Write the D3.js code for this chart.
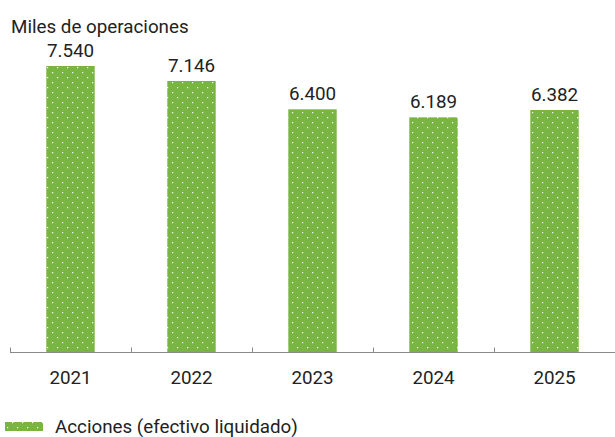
<!DOCTYPE html>
<meta charset="utf-8">
<script src="https://d3js.org/d3.v7.min.js"></script>
<style>
  body { margin: 0; background: #fff; }
  text { font-family: Roboto, "Noto Sans", sans-serif; fill: #222; }
</style>
<svg id="chart" width="615" height="437"></svg>
<script>

  // data
  var years = ["2021", "2022", "2023", "2024", "2025"];
  var values = [7540, 7146, 6400, 6189, 6382];
  var labels = ["7.540", "7.146", "6.400", "6.189", "6.382"];
  var seriesName = "Acciones (efectivo liquidado)";

  var svg = d3.select("svg"),
      width = +svg.attr("width"),
      height = +svg.attr("height");

  var left = 10, right = 615, baseline = 352.5;
  var fontSize = "18.8px";

  // dotted green fill
  var defs = svg.append("defs");
  var pat = defs.append("pattern")
      .attr("id", "dots")
      .attr("patternUnits", "userSpaceOnUse")
      .attr("width", 10)
      .attr("height", 10);
  pat.append("rect").attr("width", 10).attr("height", 10).attr("fill", "#78b543");
  pat.append("rect").attr("x", 2).attr("y", 2).attr("width", 1.2).attr("height", 1.2).attr("fill", "#fff");
  pat.append("rect").attr("x", 7).attr("y", 7).attr("width", 1.2).attr("height", 1.2).attr("fill", "#fff");

  var x = d3.scaleBand()
      .domain(years)
      .range([left, right])
      .paddingInner(0.6)
      .paddingOuter(0.3);

  var y = d3.scaleLinear()
      .domain([0, 7540])
      .range([baseline, 66]);

  // bars
  svg.append("g")
    .selectAll("rect")
    .data(years)
    .enter()
    .append("rect")
      .attr("x", function(d){ return x(d) })
      .attr("width", x.bandwidth())
      .attr("y", function(d, i){ return y(values[i]) })
      .attr("height", function(d, i){ return baseline - y(values[i]) })
      .attr("fill", "url(#dots)");

  // value labels
  svg.append("g")
    .selectAll("text")
    .data(years)
    .enter()
    .append("text")
      .attr("x", function(d){ return x(d) + x.bandwidth() / 2 })
      .attr("y", function(d, i){ return y(values[i]) - 9 })
      .attr("text-anchor", "middle")
      .style("font-size", fontSize)
      .text(function(d, i){ return labels[i] });

  // x axis line with upward ticks at category boundaries
  var step = (right - left) / years.length;
  var ax = svg.append("g");
  ax.append("line")
      .attr("x1", left).attr("x2", right)
      .attr("y1", baseline).attr("y2", baseline)
      .attr("stroke", "#8a8a8a").attr("stroke-width", 1);
  ax.selectAll(".tick")
    .data(d3.range(years.length + 1))
    .enter()
    .append("line")
      .attr("x1", function(i){ return left + i * step + 0.5 })
      .attr("x2", function(i){ return left + i * step + 0.5 })
      .attr("y1", baseline - 5).attr("y2", baseline)
      .attr("stroke", "#8a8a8a").attr("stroke-width", 1);

  // year labels
  ax.selectAll(".year")
    .data(years)
    .enter()
    .append("text")
      .attr("x", function(d){ return x(d) + x.bandwidth() / 2 })
      .attr("y", 384)
      .attr("text-anchor", "middle")
      .style("font-size", fontSize)
      .text(function(d){ return d });

  // title
  svg.append("text")
      .attr("x", 11)
      .attr("y", 33)
      .style("font-size", fontSize)
      .text("Miles de operaciones");

  // legend
  svg.append("rect")
      .attr("x", 5).attr("y", 422)
      .attr("width", 38).attr("height", 9)
      .attr("fill", "url(#dots)");
  svg.append("text")
      .attr("x", 55)
      .attr("y", 432.5)
      .style("font-size", fontSize)
      .text(seriesName);

</script>
